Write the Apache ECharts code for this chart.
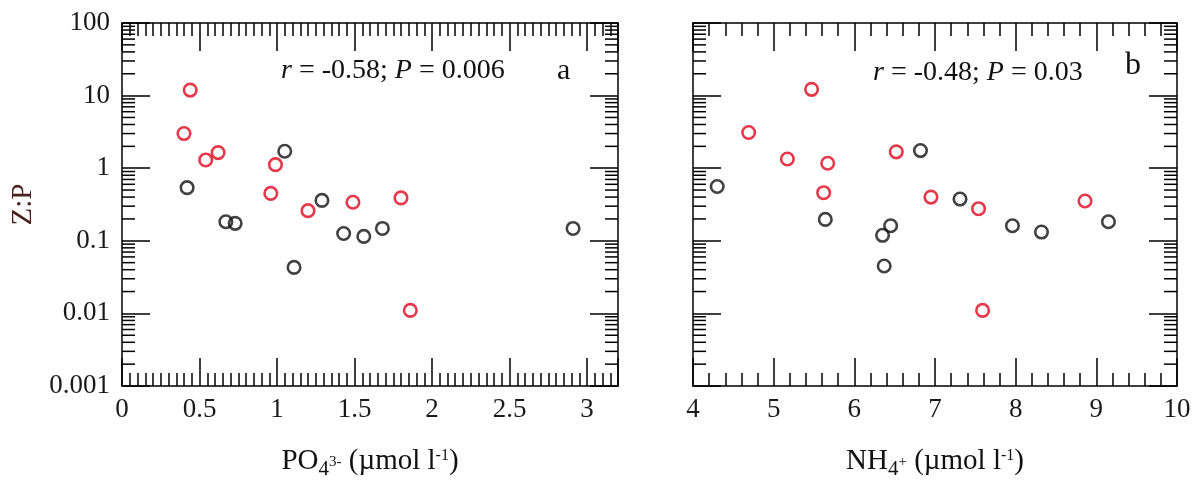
<!DOCTYPE html>
<html><head><meta charset="utf-8">
<script src="https://cdn.jsdelivr.net/npm/echarts@6/dist/echarts.min.js"></script>
<style>html,body{margin:0;padding:0;background:#fff}#c{width:1194px;height:485px}</style>
</head><body><div id="c"></div>
<script>
// ---- Data ----
// Panel a: Z:P vs PO4 3-
const aRedX   = [0.44, 0.40, 0.54, 0.62, 0.99, 0.96, 1.20, 1.49, 1.80, 1.86];
const aRedY   = [11.9, 3.0, 1.30, 1.64, 1.12, 0.45, 0.26, 0.34, 0.39, 0.011];
const aBlackX = [0.42, 1.05, 0.67, 0.73, 1.29, 1.43, 1.56, 1.68, 2.91, 1.11];
const aBlackY = [0.54, 1.71, 0.183, 0.174, 0.36, 0.126, 0.115, 0.148, 0.148, 0.043];
// Panel b: Z:P vs NH4+
const bRedX   = [5.47, 4.69, 5.17, 5.67, 5.62, 6.52, 6.95, 7.54, 8.86, 7.59];
const bRedY   = [12.2, 3.1, 1.34, 1.17, 0.46, 1.68, 0.40, 0.277, 0.353, 0.011];
const bBlackX = [4.30, 6.82, 7.31, 5.64, 6.45, 6.35, 7.96, 8.32, 9.15, 6.37];
const bBlackY = [0.56, 1.75, 0.376, 0.197, 0.161, 0.119, 0.161, 0.132, 0.183, 0.045];
// Tick labels
const yTickLabels  = ['0.001', '0.01', '0.1', '1', '10', '100'];
const aXTickLabels = ['0', '0.5', '1', '1.5', '2', '2.5', '3'];
const bXTickLabels = ['4', '5', '6', '7', '8', '9', '10'];
const annA = ['r', ' = -0.58; ', 'P', ' = 0.006'];
const annB = ['r', ' = -0.48; ', 'P', ' = 0.03'];

// ---- Styling ----
const FONT = '"Liberation Serif","Times New Roman",serif';
const FS = 27;
const RED = '#e0061a', BLK = '#111111';
const AX = {min: 0, max: 3.2}, BX = {min: 4, max: 10};
const Y = {min: 0.001, max: 100};

// log minor tick positions (2..9 x 10^k)
const yMinor = [];
for (let k = -3; k <= 1; k++) for (let m = 2; m <= 9; m++) yMinor.push(+(m * Math.pow(10, k)).toPrecision(3));

const lineStyle = {color: '#000', width: 1.5};
function zip(xs, ys) { return xs.map((x, i) => [x, ys[i]]); }
function lab(arr, step, start) {
  return function (v) { const i = Math.round((v - start) / step); return (i >= 0 && i < arr.length && Math.abs(v - (start + i * step)) < 1e-6) ? arr[i] : ''; };
}
function yLab(v) { const i = Math.round(Math.log10(v)) + 3; return yTickLabels[i] || ''; }

const richName = {
  t:   {fontFamily: FONT, fontSize: 29, color: '#111'},
  sub: {fontFamily: FONT, fontSize: 21, color: '#111', padding: [16, 0, 0, 0]},
  sup: {fontFamily: FONT, fontSize: 16, color: '#111', padding: [0, 0, 12, 0]},
  sm:  {fontFamily: FONT, fontSize: 15, color: '#111', padding: [2, 0, 0, 0]}
};

function xAxisDef(gi, pos, r, interval, minorSplit, labels, name) {
  return {
    type: 'value', gridIndex: gi, position: pos, min: r.min, max: r.max, interval: interval,
    axisLine: {show: true, onZero: false, lineStyle: lineStyle},
    axisTick: {show: true, inside: true, length: 28, lineStyle: lineStyle},
    minorTick: {show: true, splitNumber: minorSplit, length: 13, lineStyle: lineStyle},
    splitLine: {show: false}, minorSplitLine: {show: false},
    axisLabel: pos === 'bottom' ? {show: true, margin: 10, fontFamily: FONT, fontSize: FS, color: '#1a1a1a',
      showMaxLabel: r.max === 10, formatter: lab(labels, interval, r.min)} : {show: false},
    name: name || '', nameLocation: 'middle', nameGap: 57,
    nameTextStyle: {fontFamily: FONT, fontSize: 29, color: '#111', rich: richName}
  };
}
function yAxisDef(gi, pos, showLabels) {
  return {
    type: 'log', logBase: 10, gridIndex: gi, position: pos, min: Y.min, max: Y.max,
    axisLine: {show: true, onZero: false, lineStyle: lineStyle},
    axisTick: {show: true, inside: true, length: 28, lineStyle: lineStyle},
    splitLine: {show: false},
    axisLabel: showLabels ? {show: true, margin: 12, fontFamily: FONT, fontSize: FS, color: '#1a1a1a', formatter: yLab} : {show: false},
    name: showLabels ? 'Z:P' : '', nameLocation: 'middle', nameGap: 84, nameRotate: 90,
    nameTextStyle: {fontFamily: FONT, fontSize: 29, color: '#4a2020'}
  };
}
function minorY(xi, yi, r) {
  return {
    type: 'custom', xAxisIndex: xi, yAxisIndex: yi, silent: true, z: 3,
    data: yMinor.map(v => [r.min, v]),
    encode: {x: 0, y: 1},
    renderItem: function (params, api) {
      const v = api.value(1);
      const l = api.coord([r.min, v]);
      const rr = api.coord([r.max, v]);
      return {type: 'group', children: [
        {type: 'line', shape: {x1: l[0], y1: l[1], x2: l[0] + 13, y2: l[1]}, style: {stroke: '#000', lineWidth: 1.5}},
        {type: 'line', shape: {x1: rr[0], y1: rr[1], x2: rr[0] - 13, y2: rr[1]}, style: {stroke: '#000', lineWidth: 1.5}}
      ]};
    }
  };
}
function scatter(xi, yi, data, color) {
  return {type: 'scatter', xAxisIndex: xi, yAxisIndex: yi, data: data, symbol: 'circle', symbolSize: 12.5, z: 5,
    itemStyle: {color: 'rgba(0,0,0,0)', borderColor: color, borderWidth: 2.6}, silent: true};
}
function ann(parts, x, y) {
  return {type: 'text', left: x, top: y, style: {
    text: '{i|' + parts[0] + '}{n|' + parts[1] + '}{i|' + parts[2] + '}{n|' + parts[3] + '}',
    rich: {i: {fontFamily: FONT, fontSize: 28, fontStyle: 'italic', fill: '#111'},
           n: {fontFamily: FONT, fontSize: 28, fill: '#111'}}
  }};
}

const chart = echarts.init(document.getElementById('c'), null, {renderer: 'canvas'});
chart.setOption({
  backgroundColor: '#fff',
  animation: false,
  grid: [
    {left: 122, top: 23, width: 496, height: 369},
    {left: 693, top: 23, width: 484, height: 366}
  ],
  xAxis: [
    xAxisDef(0, 'bottom', AX, 0.5, 10, aXTickLabels, '{t|PO}{sub|4}{sm|3-}{t| (µmol l}{sup|-1}{t|)}'),
    xAxisDef(0, 'top', AX, 0.5, 10, aXTickLabels),
    xAxisDef(1, 'bottom', BX, 1, 5, bXTickLabels, '{t|NH}{sub|4}{sm|+}{t| (µmol l}{sup|-1}{t|)}'),
    xAxisDef(1, 'top', BX, 1, 5, bXTickLabels)
  ],
  yAxis: [
    yAxisDef(0, 'left', true),
    yAxisDef(0, 'right', false),
    yAxisDef(1, 'left', false),
    yAxisDef(1, 'right', false)
  ],
  series: [
    minorY(0, 0, AX), minorY(2, 2, BX),
    scatter(0, 0, zip(aBlackX, aBlackY), BLK),
    scatter(0, 0, zip(aRedX, aRedY), RED),
    scatter(2, 2, zip(bBlackX, bBlackY), BLK),
    scatter(2, 2, zip(bRedX, bRedY), RED)
  ],
  graphic: [
    ann(annA, 281, 57),
    {type: 'text', left: 557, top: 56, style: {text: 'a', fontFamily: FONT, fontSize: 30, fill: '#111'}},
    ann(annB, 873, 59),
    {type: 'text', left: 1125, top: 50, style: {text: 'b', fontFamily: FONT, fontSize: 32, fill: '#111'}}
  ]
});
</script>
</body></html>
